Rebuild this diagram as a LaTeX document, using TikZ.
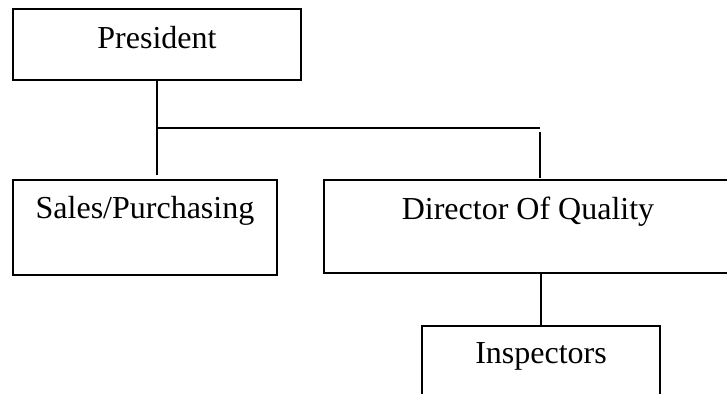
\documentclass[tikz,border=0pt]{standalone}
\usepackage{fontspec}
\setmainfont{Liberation Serif}
\begin{document}
\begin{tikzpicture}[x=1pt,y=1pt,line width=2pt,
    box/.style={draw,inner sep=0pt,anchor=north west,font=\fontsize{32}{38}\selectfont}]
    \clip (0,0) rectangle (727,-393);
    \node[box,minimum width=288pt,text height=40pt,text depth=31pt] (pres) at (12,-8) {President};
    \node[box,minimum width=264pt,text height=38pt,text depth=57pt] (sales) at (12,-179) {Sales/Purchasing};
    \node[box,minimum width=408pt,text height=39pt,text depth=54pt] (dir) at (323,-179) {Director Of Quality};
    \node[box,minimum width=238pt,text height=37pt,text depth=60pt] (insp) at (421,-325) {Inspectors};
    \coordinate (jr) at (540,-128);
    \coordinate (jl) at (pres.south |- jr);
    \draw[shorten >=4pt] (pres.south) -- (pres.south |- sales.north);
    \draw (jl) -- (jr);
    \draw[shorten <=4pt,shorten >=1pt] (jr) -- (jr |- dir.north);
    \draw (insp.north |- dir.south) -- (insp.north);
\end{tikzpicture}
\end{document}
